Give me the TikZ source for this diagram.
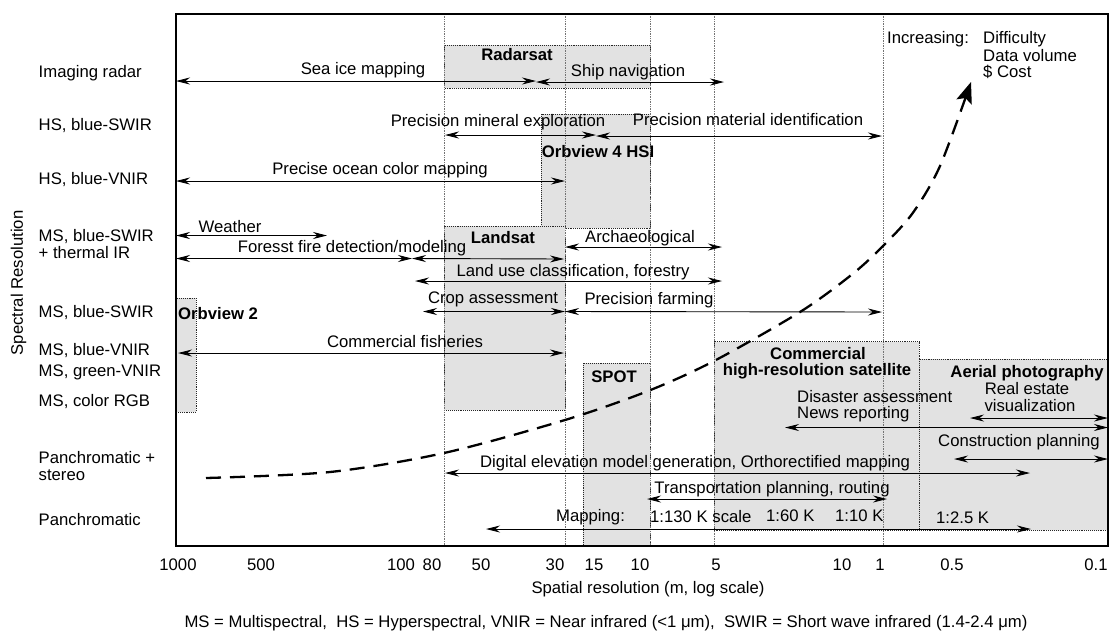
\documentclass[tikz,border=0pt]{standalone}
\usepackage{fontspec}
\setmainfont{Liberation Sans}
\usetikzlibrary{arrows.meta}
\definecolor{boxgray}{RGB}{226,226,226}
\begin{document}
\begin{tikzpicture}[x=1pt,y=-1pt,
  lab/.style={inner sep=0pt,text height=12pt,text depth=0pt,font=\fontsize{16.7}{20}\selectfont},
  blab/.style={lab,font=\fontsize{16.7}{20}\selectfont\bfseries},
  axisframe/.style={line width=1.3pt},
  gridline/.style={densely dotted,line width=0.7pt,black!55},
  sat/.style={fill=boxgray,draw=black!85,densely dotted,line width=0.9pt},
  rng/.style={{Stealth[length=14pt,width=7pt]}-{Stealth[length=14pt,width=7pt]},line width=0.9pt},
  trend/.style={line width=2.3pt,dash pattern=on 15pt off 9pt,-{Stealth[length=21pt,width=16pt,inset=4pt]}}]
\useasboundingbox (0,0) rectangle (1110,638);

% satellite coverage boxes
\draw[sat] (444,45) rectangle (650,88);
\draw[sat] (541,114) rectangle (650,228);
\draw[sat] (444,226) rectangle (565,410);
\draw[sat] (176,298) rectangle (196,412);
\draw[sat] (583,363) rectangle (650,546);
\draw[sat] (714,341.5) rectangle (919,530);
\draw[sat] (919,359) rectangle (1108,530);

% resolution grid
\foreach \gx in {444,565,650,714,883}
  \draw[gridline] (\gx,14) -- (\gx,546);

% plot frame
\draw[axisframe] (176,14) rectangle (1108,546);

% application ranges
\coordinate (sea-l) at (176,81);    \coordinate (sea-r) at (536,81);
\coordinate (ship-l) at (536,82);   \coordinate (ship-r) at (724,82);
\coordinate (min-l) at (445,135);   \coordinate (min-r) at (596,135);
\coordinate (mat-l) at (596,136);   \coordinate (mat-r) at (882,136);
\coordinate (ocean-l) at (176,181); \coordinate (ocean-r) at (565,181);
\coordinate (wx-l) at (176,235.5);  \coordinate (wx-r) at (327,235.5);
\coordinate (fire-l) at (176,258.5);\coordinate (fire-m) at (412,258.5);
\coordinate (fire-r) at (564,259);
\coordinate (arch-l) at (565,247);  \coordinate (arch-r) at (722,247);
\coordinate (land-l) at (415,281);  \coordinate (land-r) at (722,281);
\coordinate (crop-l) at (423,311.5);\coordinate (crop-r) at (565,311.5);
\coordinate (farm-l) at (565,311.5);\coordinate (farm-r) at (882,312);
\coordinate (fish-l) at (178,353);  \coordinate (fish-r) at (564,353);
\coordinate (real-l) at (970,418);  \coordinate (real-r) at (1108,418);
\coordinate (dis-l) at (785,427.5); \coordinate (dis-r) at (1108,427.5);
\coordinate (con-l) at (954,459);   \coordinate (con-r) at (1108,459);
\coordinate (dem-l) at (445,473);   \coordinate (dem-r) at (1030,473);
\coordinate (tr-l) at (647,499);    \coordinate (tr-r) at (887,499);
\coordinate (map-l) at (486,529);   \coordinate (map-r) at (1031,529);

\draw[rng] (sea-l) -- (sea-r);
\draw[rng] (ship-l) -- (ship-r);
\draw[rng] (min-l) -- (min-r);
\draw[rng] (mat-l) -- (mat-r);
\draw[rng] (ocean-l) -- (ocean-r);
\draw[rng] (wx-l) -- (wx-r);
\draw[rng] (fire-l) -- (fire-m);
\draw[rng] (fire-m) -- (fire-r);
\draw[rng] (arch-l) -- (arch-r);
\draw[rng] (land-l) -- (land-r);
\draw[rng] (crop-l) -- (crop-r);
\draw[rng] (farm-l) -- (farm-r);
\draw[rng] (fish-l) -- (fish-r);
\draw[rng] (real-l) -- (real-r);
\draw[rng] (dis-l) -- (dis-r);
\draw[rng] (con-l) -- (con-r);
\draw[rng] (dem-l) -- (dem-r);
\draw[rng] (tr-l) -- (tr-r);
\draw[rng] (map-l) -- (map-r);

% trend of difficulty, data volume and cost
\draw[trend] plot[smooth,tension=0.5] coordinates
  {(206,478) (330,472) (444,453) (565,420) (648,391) (714,361) (800,312) (850,276) (879,250) (912,214) (940,166) (971,82)};

% range labels
\node[lab] (t-sea) at (363,68) {Sea ice mapping};
\node[lab] (t-ship) at (628,70) {Ship navigation};
\node[lab] (t-min) at (498,120) {Precision mineral exploration};
\node[lab] (t-mat) at (748,119) {Precision material identification};
\node[lab] (t-ocean) at (380,168) {Precise ocean color mapping};
\node[lab] (t-wx) at (230,226) {Weather};
\node[lab] (t-fire) at (352,246) {Foresst fire detection/modeling};
\node[lab] (t-arch) at (640,236) {Archaeological};
\node[lab] (t-land) at (573,270.5) {Land use classification, forestry};
\node[lab] (t-crop) at (493,297.5) {Crop assessment};
\node[lab] (t-farm) at (649,298.6) {Precision farming};
\node[lab] (t-fish) at (405,341) {Commercial fisheries};
\node[lab,anchor=west] (t-dis) at (797,396) {Disaster assessment};
\node[lab,anchor=west] (t-news) at (797,412.5) {News reporting};
\node[lab] (t-real) at (1027,388) {Real estate};
\node[lab] (t-vis) at (1030,405) {visualization};
\node[lab] (t-con) at (1019,440.5) {Construction planning};
\node[lab] (t-dem) at (695,461) {Digital elevation model generation, Orthorectified mapping};
\node[lab] (t-tr) at (772,487) {Transportation planning, routing};
\node[lab,anchor=west] (t-map) at (556,515) {Mapping:};
\node[lab,anchor=west] (t-s130) at (650,516.5) {1:130 K scale};
\node[lab,anchor=west] (t-s60) at (766,515) {1:60 K};
\node[lab,anchor=west] (t-s10) at (835,515) {1:10 K};
\node[lab,anchor=west] (t-s25) at (936,517) {1:2.5 K};

% sensor labels
\node[blab] (b-radar) at (517,54) {Radarsat};
\node[blab] (b-ov4) at (598,151) {Orbview 4 HSI};
\node[blab] (b-land) at (503,237.5) {Landsat};
\node[blab,anchor=west] (b-ov2) at (178,313.5) {Orbview 2};
\node[blab] (b-spot) at (614,376) {SPOT};
\node[blab] (b-com1) at (818,353) {Commercial};
\node[blab] (b-com2) at (817,369) {high-resolution satellite};
\node[blab] (b-aer) at (1027,371) {Aerial photography};

% trend legend
\node[lab,anchor=west] (inc) at (887,37) {Increasing:};
\node[lab,anchor=west] (inc1) at (983,37) {Difficulty};
\node[lab,anchor=west] (inc2) at (983,55) {Data volume};
\node[lab,anchor=west] (inc3) at (983,71) {\$ Cost};

% spectral resolution rows
\node[lab,anchor=west] (r1) at (38.5,71) {Imaging radar};
\node[lab,anchor=west] (r2) at (38.5,124) {HS, blue-SWIR};
\node[lab,anchor=west] (r3) at (38.5,178) {HS, blue-VNIR};
\node[lab,anchor=west] (r4a) at (38.5,235) {MS, blue-SWIR};
\node[lab,anchor=west] (r4b) at (38.5,252.5) {+ thermal IR};
\node[lab,anchor=west] (r5) at (38.5,311) {MS, blue-SWIR};
\node[lab,anchor=west] (r6) at (38.5,349) {MS, blue-VNIR};
\node[lab,anchor=west] (r7) at (38.5,370) {MS, green-VNIR};
\node[lab,anchor=west] (r8) at (38.5,400) {MS, color RGB};
\node[lab,anchor=west] (r9a) at (38.5,457.5) {Panchromatic +};
\node[lab,anchor=west] (r9b) at (38.5,474) {stereo};
\node[lab,anchor=west] (r10) at (38.5,519) {Panchromatic};
\node[lab,rotate=90] (ylab) at (17,283) {Spectral Resolution};

% spatial resolution axis
\foreach \tx/\tt [count=\i] in {178/1000,261/500,401/100,432/80,481/50,555/30,594/15,640/10,716/5,842/10,880/1,952/0.5,1096/0.1}
  \node[lab] (tick-\i) at (\tx,564) {\tt};
\node[lab] (xlab) at (648,587) {Spatial resolution (m, log scale)};
\node[lab] (note) at (606,621) {MS = Multispectral,\ \ HS = Hyperspectral, VNIR = Near infrared (<1 μm),\ \ SWIR = Short wave infrared (1.4-2.4 μm)};
\end{tikzpicture}
\end{document}
